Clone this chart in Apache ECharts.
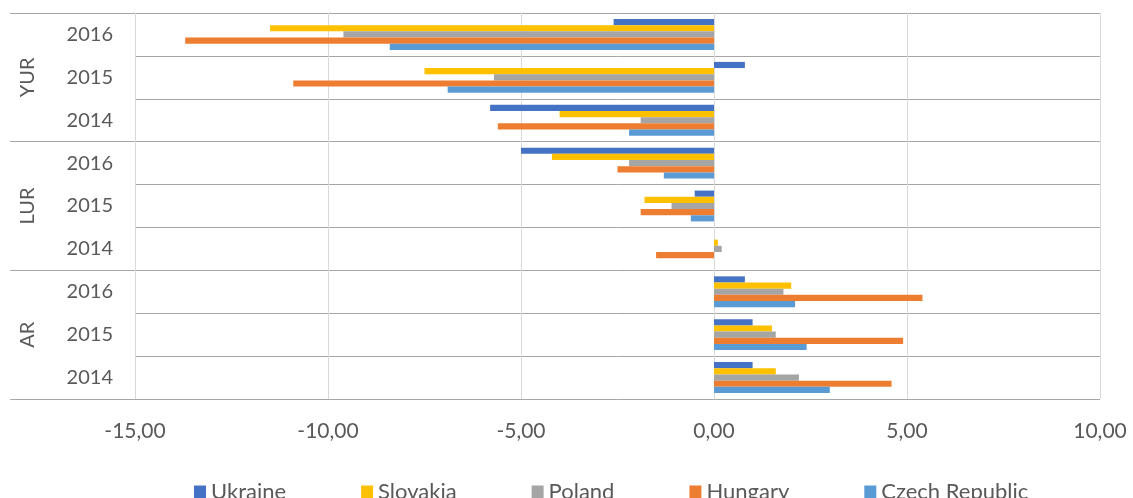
<!DOCTYPE html>
<html>
<head>
<meta charset="utf-8">
<script src="https://cdn.jsdelivr.net/npm/echarts@6/dist/echarts.min.js"></script>
<style>html,body{margin:0;padding:0;background:#fff;}#c{width:1133px;height:498px;}</style>
</head>
<body>
<div id="c"></div>
<script>
const groups = ['YUR', 'LUR', 'AR'];
const years = ['2016', '2015', '2014'];
const seriesNames = ['Ukraine', 'Slovakia', 'Poland', 'Hungary', 'Czech Republic'];
const ukraine  = [-2.6, 0.8, -5.8, -5.0, -0.5, 0, 0.8, 1.0, 1.0];
const slovakia = [-11.5, -7.5, -4.0, -4.2, -1.8, 0.1, 2.0, 1.5, 1.6];
const poland   = [-9.6, -5.7, -1.9, -2.2, -1.1, 0.2, 1.8, 1.6, 2.2];
const hungary  = [-13.7, -10.9, -5.6, -2.5, -1.9, -1.5, 5.4, 4.9, 4.6];
const czech    = [-8.4, -6.9, -2.2, -1.3, -0.6, 0, 2.1, 2.4, 3.0];
const colors = ['#4472C4', '#FFC000', '#A5A5A5', '#ED7D31', '#5B9BD5'];

const categories = [];
groups.forEach(g => years.forEach(y => categories.push(g + '|' + y)));
const values = [ukraine, slovakia, poland, hungary, czech];

const font = 'Lato, "Open Sans", sans-serif';
const chart = echarts.init(document.getElementById('c'));
chart.setOption({
  animation: false,
  color: colors,
  grid: { left: 135, right: 33, top: 13, bottom: 99 },
  legend: {
    top: 476,
    left: 189,
    itemWidth: 12, itemHeight: 13, itemGap: 75,
    icon: 'rect',
    textStyle: { fontSize: 22, color: '#595959', fontFamily: font },
    data: seriesNames
  },
  xAxis: {
    type: 'value', min: -15, max: 10, interval: 5,
    axisLine: { show: false }, axisTick: { show: false },
    splitLine: { show: true, lineStyle: { color: '#d9d9d9', width: 1 } },
    axisLabel: { margin: 22, fontSize: 21, color: '#595959', fontFamily: font,
      formatter: v => v.toFixed(2).replace('.', ',') }
  },
  yAxis: [{
    type: 'category', inverse: true, data: categories,
    axisLine: { show: true, lineStyle: { color: '#d9d9d9' } },
    axisTick: { show: true, length: 4, lineStyle: { color: '#a6a6a6' } },
    splitLine: { show: true, lineStyle: { color: '#a6a6a6', width: 1 } },
    axisLabel: { margin: 22, fontSize: 20, color: '#595959', fontFamily: font,
      formatter: v => v.split('|')[1] }
  }, {
    type: 'category', inverse: true, data: groups, position: 'left', offset: 0,
    axisLine: { show: false },
    axisTick: { show: true, length: 125, lineStyle: { color: '#a6a6a6' } },
    splitLine: { show: false },
    axisLabel: { margin: 97, rotate: 90, fontSize: 20, color: '#595959', fontFamily: font }
  }],
  series: values.map((d, i) => ({
    name: seriesNames[i], type: 'bar', yAxisIndex: 0, data: d,
    barGap: '0%', barCategoryGap: '28%'
  }))
});
</script>
</body>
</html>
